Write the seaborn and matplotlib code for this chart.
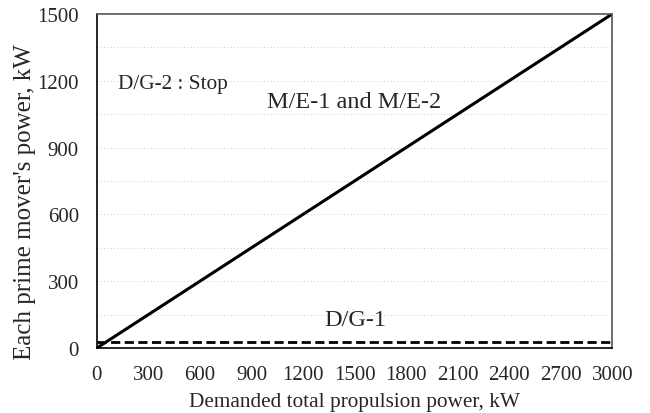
import matplotlib
matplotlib.use("Agg")
import matplotlib.pyplot as plt
import seaborn as sns
import pandas as pd

# Demanded total propulsion power, kW
demanded = [0, 3000]
# Each main engine (M/E-1 and M/E-2) power, kW
me_power = [0, 1500]
# D/G-1 power, kW
dg1_power = [27, 27]

x_ticks = [0, 300, 600, 900, 1200, 1500, 1800, 2100, 2400, 2700, 3000]
y_ticks = [0, 300, 600, 900, 1200, 1500]

df_me = pd.DataFrame({"demanded": demanded, "power": me_power})
df_dg = pd.DataFrame({"demanded": demanded, "power": dg1_power})

sns.set_style("white")
plt.rcParams['font.family'] = ['Liberation Serif', 'DejaVu Serif']

fig = plt.figure(figsize=(6.5, 4.14), dpi=100)
ax = fig.add_axes([0.149, 0.157, 0.793, 0.807])

# faint dotted grid
for yv in range(150, 1500, 150):
    ax.axhline(yv, color='#bbbbbb', lw=0.6, ls=(0, (1, 3)), zorder=0)

sns.lineplot(data=df_me, x="demanded", y="power", ax=ax, color='black', lw=2.2)
sns.lineplot(data=df_dg, x="demanded", y="power", ax=ax, color='black', lw=2,
             linestyle=(0, (3.3, 1.6)))

ax.set_xlim(0, 3000)
ax.set_ylim(0, 1500)
ax.set_xticks(x_ticks)
ax.set_yticks(y_ticks)
ax.tick_params(axis='both', length=0, labelsize=15)
ax.tick_params(axis='x', pad=12)
ax.tick_params(axis='y', pad=13)
ax.set_xlabel("Demanded total propulsion power, kW", fontsize=15.3, labelpad=6)
ax.set_ylabel("Each prime mover's power, kW", fontsize=18)
ax.yaxis.set_label_coords(-0.118, 0.44)

for s in ax.spines.values():
    s.set_color('black')
    s.set_linewidth(1.2)
ax.spines['top'].set_color('#555555')
ax.spines['right'].set_color('#555555')

ax.text(125, 1186, "D/G-2 : Stop", fontsize=15.3, va='center')
ax.text(990, 1105, "M/E-1 and M/E-2", fontsize=17.5, va='center')
ax.text(1325, 130, "D/G-1", fontsize=17.5, va='center')

fig.savefig("out.png", dpi=100)
